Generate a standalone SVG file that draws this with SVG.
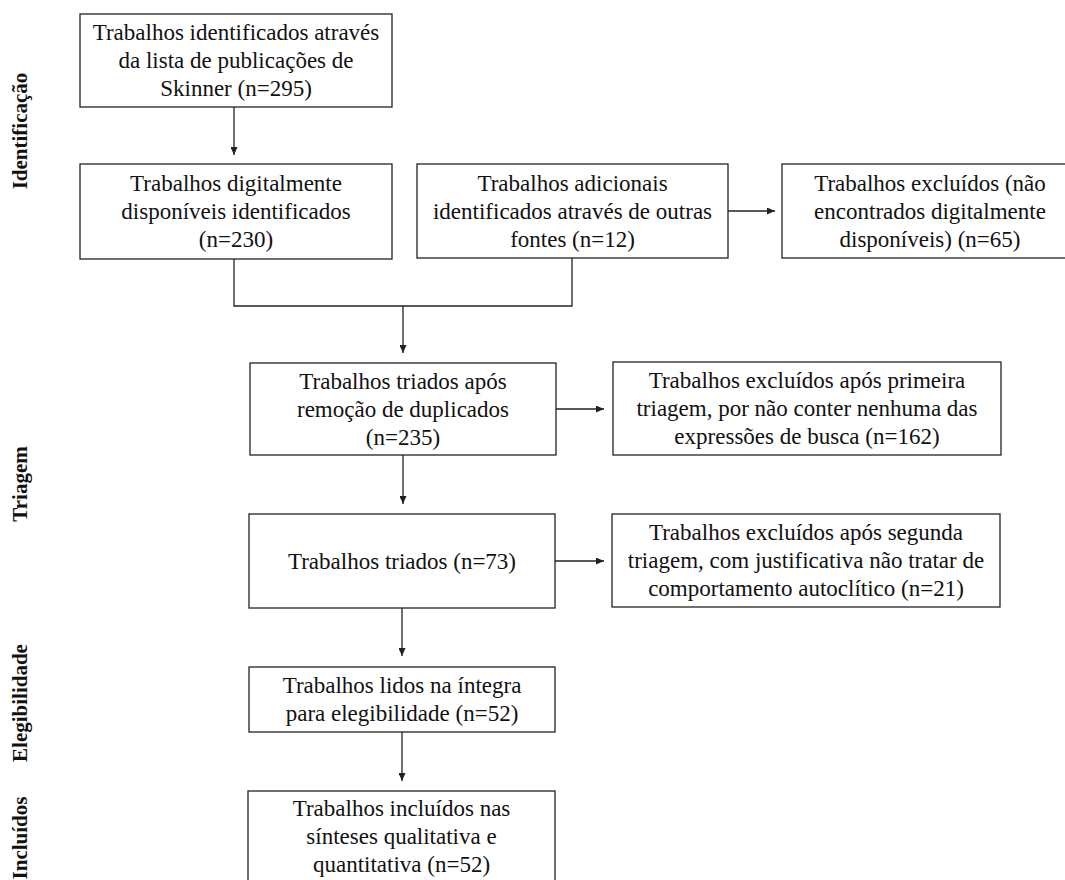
<svg xmlns="http://www.w3.org/2000/svg" width="1065" height="880" viewBox="0 0 1065 880">
<defs>
<style>
.box{fill:#fff;stroke:#222;stroke-width:1.3}
.t{font-family:"Liberation Serif","Times New Roman",serif;font-size:23px;fill:#111;text-anchor:middle}
.lab{font-family:"Liberation Serif","Times New Roman",serif;font-size:21px;font-weight:bold;fill:#111;text-anchor:middle}
.c{fill:none;stroke:#222;stroke-width:1.3}
</style>
<marker id="ah" markerUnits="userSpaceOnUse" markerWidth="8" markerHeight="7" refX="8" refY="3.5" orient="auto">
<path d="M0,0 L8,3.5 L0,7 z" fill="#222"/>
</marker>
</defs>
<rect width="1065" height="880" fill="#fff"/>

<g id="labels">
<text class="lab" transform="translate(27,131) rotate(-90)">Identificação</text>
<text class="lab" transform="translate(27,484) rotate(-90)">Triagem</text>
<text class="lab" transform="translate(27,703) rotate(-90)">Elegibilidade</text>
<text class="lab" transform="translate(27,838) rotate(-90)">Incluídos</text>
</g>

<g id="connectors">
<line class="c" x1="234" y1="107" x2="234" y2="155" marker-end="url(#ah)"/>
<polyline class="c" points="234,259 234,306 572,306 572,258"/>
<line class="c" x1="403" y1="306" x2="403" y2="353" marker-end="url(#ah)"/>
<line class="c" x1="728" y1="211" x2="775" y2="211" marker-end="url(#ah)"/>
<line class="c" x1="556" y1="409" x2="604" y2="409" marker-end="url(#ah)"/>
<line class="c" x1="403" y1="455" x2="403" y2="504" marker-end="url(#ah)"/>
<line class="c" x1="555" y1="561" x2="604" y2="561" marker-end="url(#ah)"/>
<line class="c" x1="402" y1="608" x2="402" y2="656" marker-end="url(#ah)"/>
<line class="c" x1="402" y1="732" x2="402" y2="781" marker-end="url(#ah)"/>
</g>

<g id="n1">
<rect class="box" x="80" y="14" width="312" height="93"/>
<text class="t" x="236" y="40">Trabalhos identificados através</text>
<text class="t" x="236" y="68">da lista de publicações de</text>
<text class="t" x="236" y="96">Skinner (n=295)</text>
</g>

<g id="n2">
<rect class="box" x="80" y="164" width="312" height="95"/>
<text class="t" x="236" y="191">Trabalhos digitalmente</text>
<text class="t" x="236" y="219">disponíveis identificados</text>
<text class="t" x="236" y="247">(n=230)</text>
</g>

<g id="n3">
<rect class="box" x="417" y="164" width="311" height="94"/>
<text class="t" x="572.5" y="191">Trabalhos adicionais</text>
<text class="t" x="572.5" y="219">identificados através de outras</text>
<text class="t" x="572.5" y="247">fontes (n=12)</text>
</g>

<g id="n4">
<rect class="box" x="782" y="164" width="300" height="94"/>
<text class="t" x="930" y="191">Trabalhos excluídos (não</text>
<text class="t" x="930" y="219">encontrados digitalmente</text>
<text class="t" x="930" y="247">disponíveis) (n=65)</text>
</g>

<g id="n5">
<rect class="box" x="250" y="363" width="306" height="92"/>
<text class="t" x="403" y="389">Trabalhos triados após</text>
<text class="t" x="403" y="417">remoção de duplicados</text>
<text class="t" x="403" y="445">(n=235)</text>
</g>

<g id="n6">
<rect class="box" x="613" y="362" width="388" height="93"/>
<text class="t" x="807" y="388">Trabalhos excluídos após primeira</text>
<text class="t" x="807" y="416">triagem, por não conter nenhuma das</text>
<text class="t" x="807" y="444">expressões de busca (n=162)</text>
</g>

<g id="n7">
<rect class="box" x="249" y="514" width="306" height="94"/>
<text class="t" x="402" y="569">Trabalhos triados (n=73)</text>
</g>

<g id="n8">
<rect class="box" x="612" y="514" width="388" height="93"/>
<text class="t" x="806" y="540">Trabalhos excluídos após segunda</text>
<text class="t" x="806" y="568">triagem, com justificativa não tratar de</text>
<text class="t" x="806" y="596">comportamento autoclítico (n=21)</text>
</g>

<g id="n9">
<rect class="box" x="249" y="667" width="306" height="65"/>
<text class="t" x="402" y="693">Trabalhos lidos na íntegra</text>
<text class="t" x="402" y="721">para elegibilidade (n=52)</text>
</g>

<g id="n10">
<rect class="box" x="248" y="791" width="307" height="90"/>
<text class="t" x="401.5" y="816">Trabalhos incluídos nas</text>
<text class="t" x="401.5" y="844">sínteses qualitativa e</text>
<text class="t" x="401.5" y="872">quantitativa (n=52)</text>
</g>
</svg>
